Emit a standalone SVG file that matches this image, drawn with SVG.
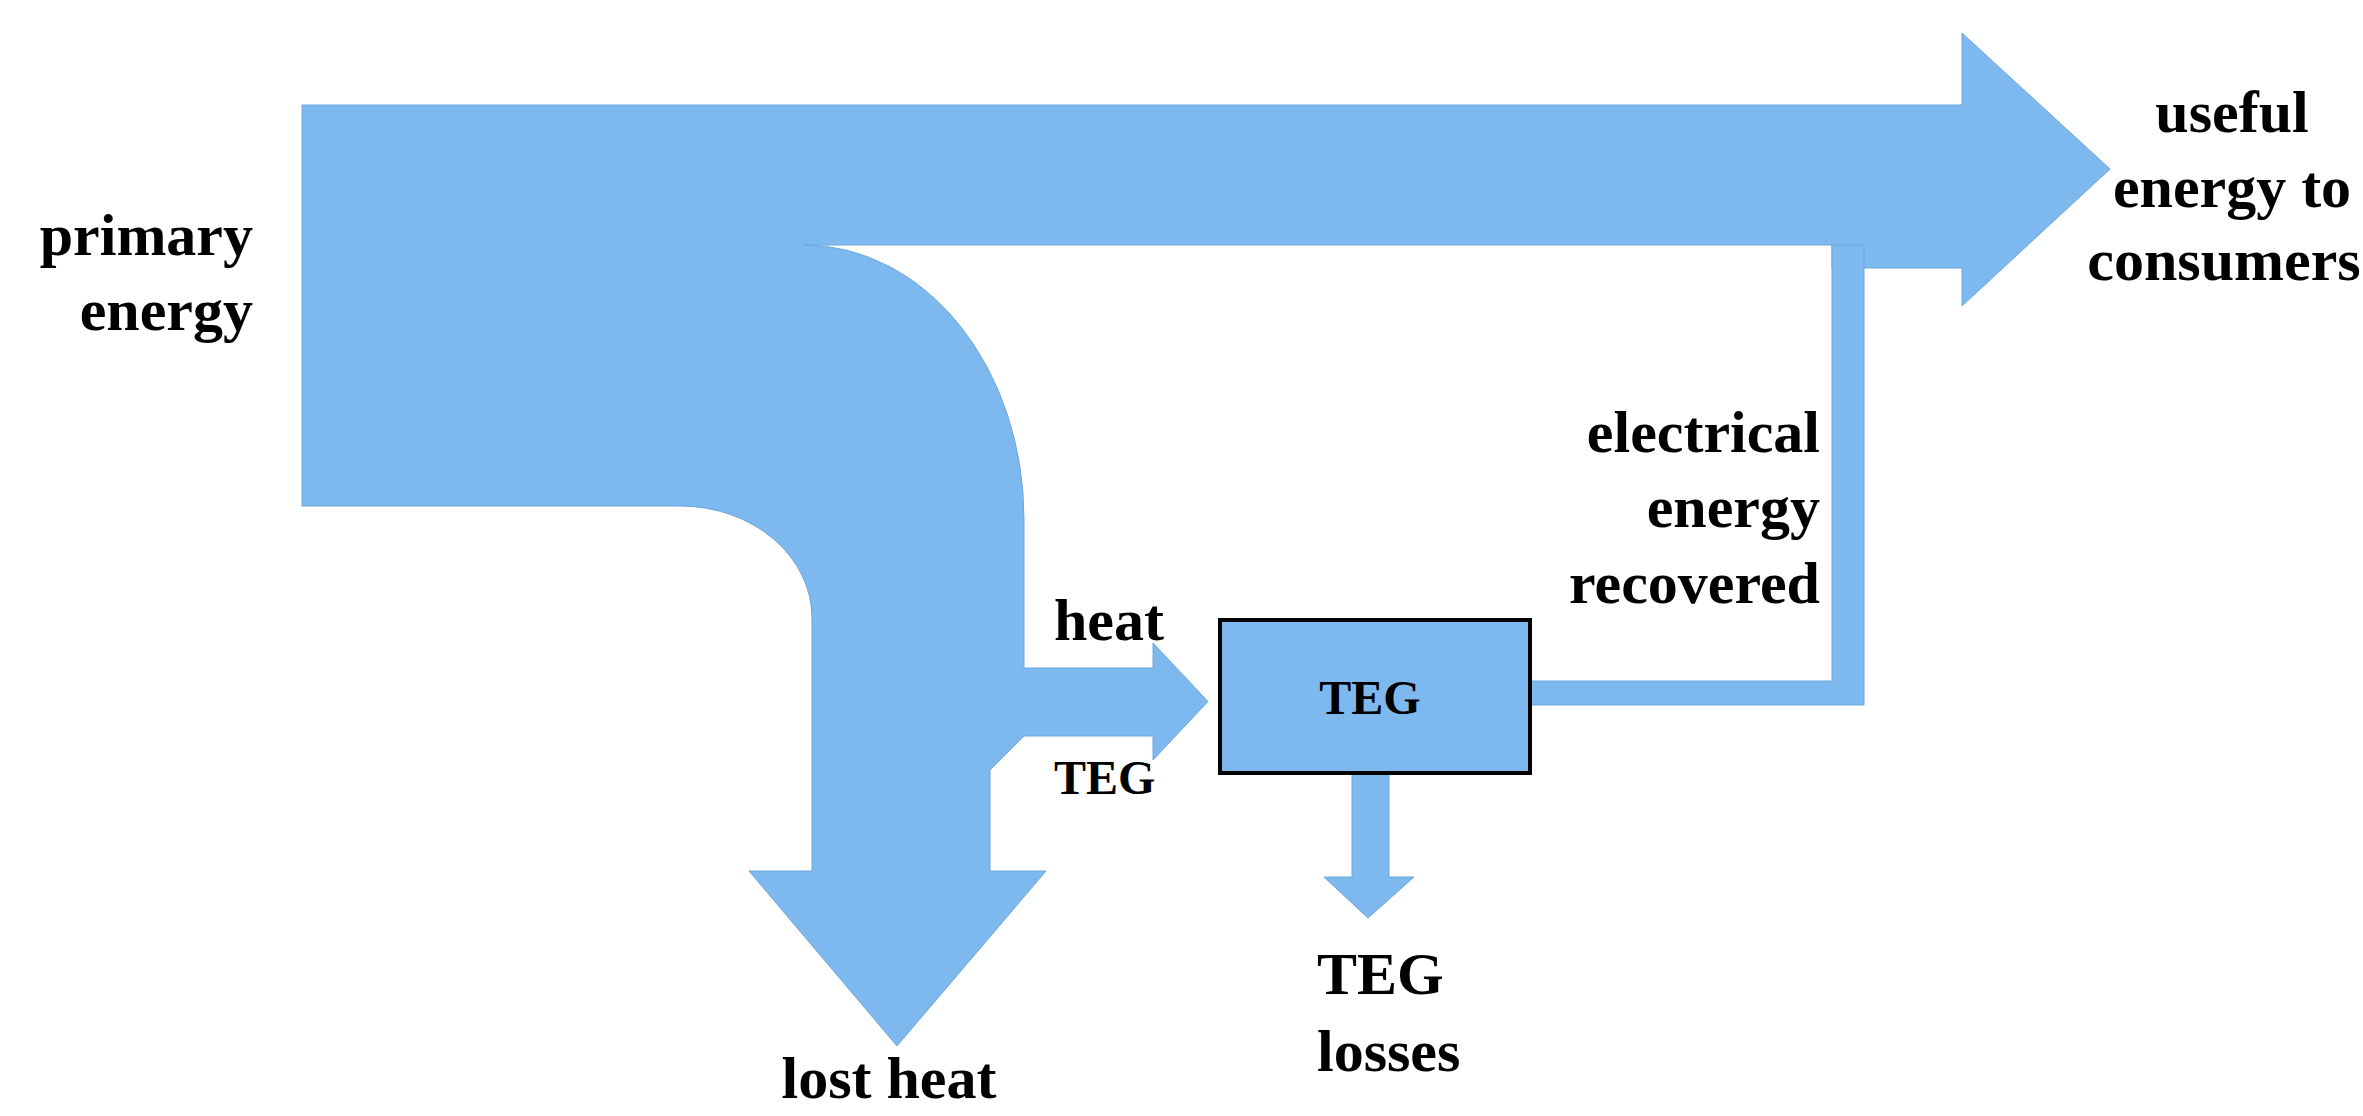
<svg xmlns="http://www.w3.org/2000/svg" width="2363" height="1116" viewBox="0 0 2363 1116">
<style>
.flow{fill:#7db9ee;stroke:#6ea7dc;stroke-width:1}
.lbl{font-family:"Liberation Serif","Times New Roman",serif;font-weight:bold;font-size:60px;fill:#000}
.sm{font-size:48px}
.box{fill:#7db9ee;stroke:#000;stroke-width:4}
</style>
<rect width="2363" height="1116" fill="#fff"/>
<g id="connectors">
<path id="flow-main" class="flow" d="M302,105 H1962 V33 L2110,169 L1962,306 V268 H1832 V245 H804 A220,274 0 0 1 1024,520 V668 H1153 V643 L1208,701.5 L1153,760 V736 H1024 L990,770 V871 H1046 L897,1046 L749,871 H812 V618 A132,112 0 0 0 680,506 H302 Z"/>
<path id="flow-electrical" class="flow" d="M1531,681 H1832 V245 H1864 V705 H1531 Z"/>
<path id="flow-teg-losses" class="flow" d="M1352,774 H1389 V877 H1414 L1368,918 L1324,877 H1352 Z"/>
</g>
<g id="node-teg">
<rect class="box" x="1220" y="620" width="310" height="153"/>
<text class="lbl sm" x="1370" y="714" text-anchor="middle">TEG</text>
</g>
<g id="node-primary-energy">
<text class="lbl" x="253" y="255" text-anchor="end">primary</text>
<text class="lbl" x="253" y="330" text-anchor="end">energy</text>
</g>
<g id="node-useful-energy">
<text class="lbl" x="2232" y="132" text-anchor="middle">useful</text>
<text class="lbl" x="2232" y="207" text-anchor="middle">energy to</text>
<text class="lbl" x="2224" y="280" text-anchor="middle">consumers</text>
</g>
<g id="node-electrical">
<text class="lbl" x="1820" y="452" text-anchor="end">electrical</text>
<text class="lbl" x="1820" y="527" text-anchor="end">energy</text>
<text class="lbl" x="1820" y="603" text-anchor="end">recovered</text>
</g>
<g id="node-heat-teg">
<text class="lbl" x="1054" y="640">heat</text>
<text class="lbl sm" x="1054" y="794">TEG</text>
</g>
<g id="node-lost-heat">
<text class="lbl" x="889" y="1098" text-anchor="middle">lost heat</text>
</g>
<g id="node-teg-losses">
<text class="lbl" x="1317" y="994">TEG</text>
<text class="lbl" x="1317" y="1071">losses</text>
</g>
</svg>
